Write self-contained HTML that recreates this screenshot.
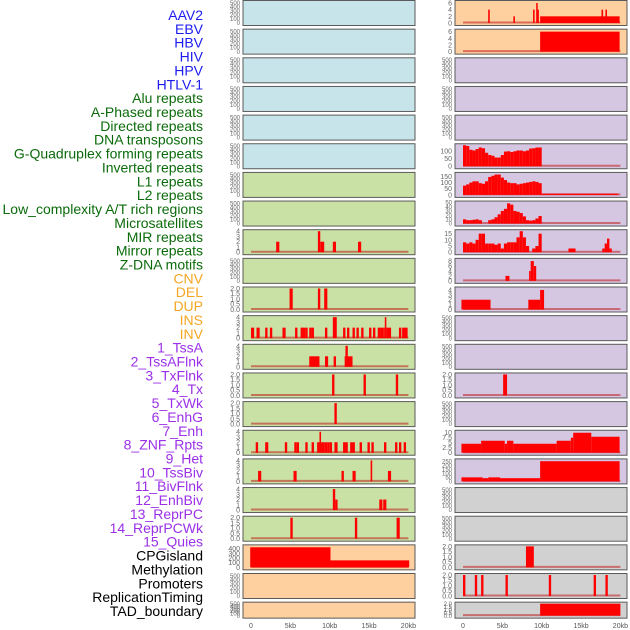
<!DOCTYPE html>
<html><head><meta charset="utf-8"><style>
html,body{margin:0;padding:0;background:#fff;width:630px;height:630px;overflow:hidden}
svg{display:block;font-family:"Liberation Sans",sans-serif}
</style></head><body>
<svg id="c" width="630" height="630" xmlns="http://www.w3.org/2000/svg"></svg>
<script>
const labels=["AAV2","EBV","HBV","HIV","HPV","HTLV-1","Alu repeats","A-Phased repeats","Directed repeats","DNA transposons","G-Quadruplex forming repeats","Inverted repeats","L1 repeats","L2 repeats","Low_complexity A/T rich regions","Microsatellites","MIR repeats","Mirror repeats","Z-DNA motifs","CNV","DEL","DUP","INS","INV","1_TssA","2_TssAFlnk","3_TxFlnk","4_Tx","5_TxWk","6_EnhG","7_Enh","8_ZNF_Rpts","9_Het","10_TssBiv","11_BivFlnk","12_EnhBiv","13_ReprPC","14_ReprPCWk","15_Quies","CPGisland","Methylation","Promoters","ReplicationTiming","TAD_boundary"];
const labelGroups=["v","v","v","v","v","v","r","r","r","r","r","r","r","r","r","r","r","r","r","s","s","s","s","s","c","c","c","c","c","c","c","c","c","c","c","c","c","c","c","o","o","o","o","o"];
const xTicks=[0,5,10,15,20];
const xTickLabels=["0","5kb","10kb","15kb","20kb"];
const leftBg=["b","b","b","b","b","b","g","g","g","g","g","g","g","g","g","g","g","g","g","o","o","o"];
const rightBg=["o","o","p","p","p","p","p","p","p","p","p","p","p","p","p","p","p","y","y","y","y","y"];
const ticks500=[0,100,200,300,400,500];
const L_ymax=[0,0,0,0,0,0,0,0,4,0,2,4,4,2,2,4,4,4,2,450,0,0];
const L_ticks=[ticks500,ticks500,ticks500,ticks500,ticks500,ticks500,ticks500,ticks500,[0,1,2,3,4],ticks500,[0,0.5,1,1.5,2],[0,1,2,3,4],[0,1,2,3,4],[0,0.5,1,1.5,2],[0,0.5,1,1.5,2],[0,1,2,3,4],[0,1,2,3,4],[0,1,2,3,4],[0,0.5,1,1.5,2],[0,100,200,300,400],ticks500,ticks500];
const L_row9=[[3.2,3.6,2],[8.5,8.8,4],[8.8,9.3,2],[10.4,10.8,2],[13.6,14,2]];
const L_row11=[[4.9,5.3,2],[8.5,8.8,2],[9.3,9.7,2]];
const L_row12=[[0,0.4,2],[0.7,1.1,2],[1.8,2.1,2],[2.4,2.7,2],[4.0,4.4,2],[5.6,5.9,2],[6.3,6.6,2],[6.6,6.9,2],[6.9,7.2,2],[7.4,7.7,2],[7.7,8.0,2],[9.4,9.7,2],[10.4,10.9,4],[11.7,12.0,2],[12.2,12.5,2],[12.9,13.2,2],[13.4,13.7,2],[14.0,14.3,2],[15.0,15.3,2],[15.5,15.8,2],[16.1,16.4,2],[16.4,16.8,2],[16.8,17.0,2],[17.0,17.2,4],[17.2,17.8,2],[18.8,19.1,2],[19.2,19.5,2],[19.5,19.9,2]];
const L_row13=[[7.4,8.7,2],[9.4,9.8,2],[10.5,10.8,2],[11.9,12.9,2],[12.0,12.3,4]];
const L_row14=[[10.3,10.6,2],[14.3,14.6,2],[18.4,18.7,2]];
const L_row15=[[10.6,10.9,2]];
const L_row16=[[0.6,0.9,2],[1.8,2.2,2],[4.3,4.6,2],[5.5,5.8,2],[5.8,6.1,2],[6.9,7.2,2],[7.7,8.0,2],[8.4,8.7,2],[8.7,8.9,4],[8.9,9.3,2],[9.3,9.7,2],[9.7,10.0,2],[10.0,10.3,2],[10.6,11.0,2],[11.7,12.0,2],[12.0,12.3,2],[12.6,12.9,2],[12.9,13.2,2],[13.8,14.1,2],[14.8,15.1,2],[15.3,15.6,2],[16.9,17.2,2],[18.3,18.6,2],[18.8,19.1,2],[19.4,19.7,2]];
const L_row17=[[0.9,1.3,2],[5.4,5.8,2],[11.5,11.8,2],[12.9,13.3,2],[15.2,15.4,4],[17.4,17.8,2]];
const L_row18=[[10.4,10.7,4],[10.7,11.0,2],[16.3,16.7,2],[16.8,17.2,2]];
const L_row19=[[5.0,5.3,2],[13.2,13.5,2],[18.5,18.9,2]];
const L_row20=[[-0.1,10.1,430],[10.1,20.1,150]];
const leftData=[[],[],[],[],[],[],[],[],L_row9,[],L_row11,L_row12,L_row13,L_row14,L_row15,L_row16,L_row17,L_row18,L_row19,L_row20,[],[]];
const R_ymax=[6.3,6.3,0,0,0,140,170,50,17,8.5,4.3,0,0,2,0,10.5,260,0,0,2,2,2];
const R_ticks=[[0,2,4,6],[0,2,4,6],ticks500,ticks500,ticks500,[0,50,100],[0,50,100,150],[0,10,20,30,40,50],[0,5,10,15],[0,2,4,6,8],[0,1,2,3,4],ticks500,ticks500,[0,0.5,1,1.5,2],ticks500,[0,2.5,5,7.5,10],[0,50,100,150,200,250],ticks500,ticks500,[0,0.5,1,1.5,2],[0,0.5,1,1.5,2],[0,0.5,1,1.5,2]];
const R_row1=[[3.2,3.4,4],[6.4,6.6,2],[8.9,9.1,4],[9.3,9.45,6],[9.45,9.6,4],[9.8,19.9,2],[17.6,17.8,4],[18.1,18.3,4]];
const R_row2=[[9.8,19.9,6]];
const R_g4Bins=[140,135,110,105,115,125,120,90,75,70,58,58,75,98,100,95,100,105,105,100,105,118,120,125,125];
const R_l1Bins=[75,85,100,110,110,95,90,110,145,155,165,165,140,120,100,95,95,85,90,95,100,105,110,105,95];
const R_l1Tail=[[10,19.7,10]];
const R_lowBins=[10,8,8,9,10,8,0,0,8,10,15,22,30,35,48,45,30,28,25,17,8,7,8,12,18];
const R_mirBins=[8,7,8,7,10,15,15,7,7,7,6,7,3,7,8,8,8,12,17,12,5,0,3,5,15];
const R_mirTail=[[13.4,14.3,3],[17.7,18.0,3],[18.0,18.3,7],[18.3,18.6,11],[18.6,18.9,3]];
const R_row10=[[5.4,5.9,2],[8.4,8.6,4],[8.6,9.0,8],[9.0,9.3,6]];
const R_row11=[[-0.2,3.5,2],[8.3,9.8,2],[9.8,10.3,4]];
const R_row14=[[5.1,5.6,2]];
const R_row16=[[-0.2,2.3,4.5],[2.3,5.3,6],[5.3,5.6,4.5],[5.6,6.4,6],[6.4,11.9,4.5],[11.9,13.7,6],[13.7,14.0,7.5],[14.0,16.3,10],[16.3,19.9,8]];
const R_row17=[[-0.2,2.5,50],[2.5,3.2,40],[3.2,4.7,50],[4.7,9.8,40],[9.8,19.9,250]];
const R_row20=[[8.0,9.0,2]];
const R_row21=[[0.0,0.3,2],[1.5,1.8,2],[2.3,2.6,2],[5.4,5.7,2],[10.9,11.2,2],[16.6,16.9,2],[18.1,18.4,2]];
const R_row22=[[9.8,20.0,2]];
function bins(arr,w){return arr.map((v,i)=>[i*w,(i+1)*w,v]);}
const rightData=[R_row1,R_row2,[],[],[],bins(R_g4Bins,0.4),bins(R_l1Bins,0.4).concat(R_l1Tail),bins(R_lowBins,0.4),bins(R_mirBins,0.4).concat(R_mirTail),R_row10,R_row11,[],[],R_row14,[],R_row16,R_row17,[],[],R_row20,R_row21,R_row22];

const NS="http://www.w3.org/2000/svg";
const svg=document.getElementById('c');
function el(t,a,p){const e=document.createElementNS(NS,t);for(const k in a)e.setAttribute(k,a[k]);(p||svg).appendChild(e);return e;}
const colors={b:"#c7e4eb",g:"#c9e1a4",o:"#fecf9f",p:"#d5c6e1",y:"#d1d1d1"};
const groupColors={v:"#1c1cf0",r:"#0b6b0b",s:"#f5a623",c:"#9b30e8",o:"#000"};
labels.forEach((t,i)=>{
  const e=el('text',{x:203,y:20+i*13.86,'text-anchor':'end','font-size':14,fill:groupColors[labelGroups[i]]});
  e.textContent=t;
  
  
});
function panel(colX,i,bg,ymax,ticks,data){
  const top=i*28.65, h=(i===21)?16:25, left=colX, w=172;
  const g=el('g',{});
  
  
  el('rect',{x:left,y:top+0.5,width:w,height:h,fill:colors[bg],stroke:'#5a5a5a','stroke-width':1},g);
  const x=kb=>left+8+kb*7.87;
  const ym=ymax>0?ymax:520;
  const yb=top+h-2, yt=top+2;
  const y=v=>yb-(v/ym)*(yb-yt);
  const fs=(ticks.length>5||h<20)?6:7;
  ticks.forEach(tv=>{
    const tt=el('text',{x:left-3,y:y(tv)+fs*0.35,'text-anchor':'end','font-size':fs,fill:'#666'},g);
    tt.textContent=String(tv%1?tv.toFixed(1):(ticks[ticks.length-1]<=2&&ticks.length===5?tv.toFixed(1):tv));
  });
  if(data.length){
    el('line',{x1:x(0),x2:x(20),y1:yb-0.5,y2:yb-0.5,stroke:'rgba(190,30,30,0.55)','stroke-width':2},g);
    data.forEach((s,k)=>{
      const r=el('rect',{x:x(s[0]),y:y(s[2]),width:Math.max(1.5,x(s[1])-x(s[0])),height:yb-y(s[2]),fill:'#ff0000'},g);
      
      
    });
  }
}
for(let i=0;i<22;i++){
  panel(243,i,leftBg[i],L_ymax[i],L_ticks[i],leftData[i]);
  panel(455,i,rightBg[i],R_ymax[i],R_ticks[i],rightData[i]);
}
[243,455].forEach(lx=>{
  xTicks.forEach((t,k)=>{
    const e=el('text',{x:lx+8+t*7.87,y:628,'text-anchor':'middle','font-size':7,fill:'#555'});
    e.textContent=xTickLabels[k];
    
    
  });
});
</script>
</body></html>
